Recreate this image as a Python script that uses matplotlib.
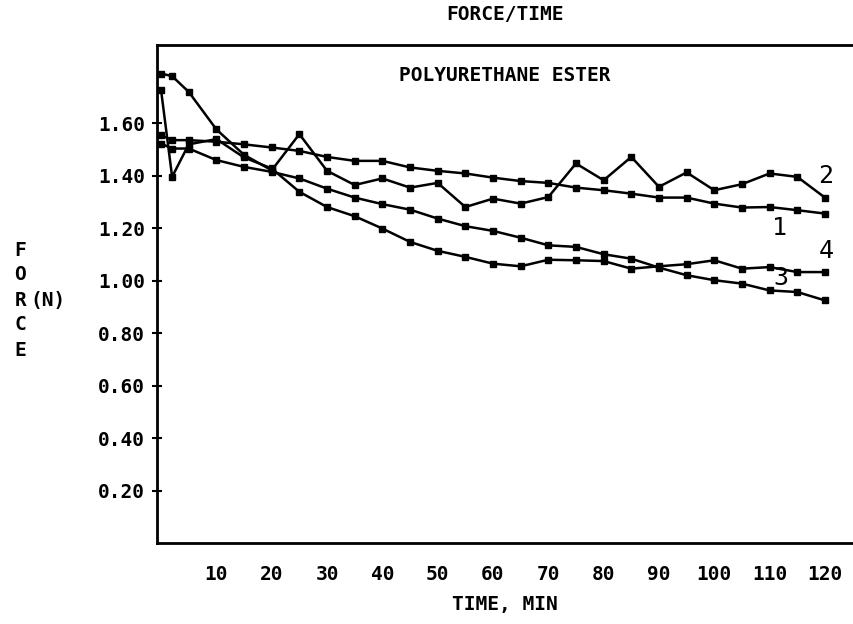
import numpy as np
import matplotlib
matplotlib.use('Agg')
import matplotlib.pyplot as plt

# time points (min)
time = [0, 2, 5, 10, 15, 20, 25, 30, 35, 40, 45, 50, 55, 60, 65,
        70, 75, 80, 85, 90, 95, 100, 105, 110, 115, 120]

# force readings (N), one list per sample
force_1 = [1.555, 1.536, 1.536, 1.53, 1.52, 1.508, 1.495, 1.472, 1.457, 1.457,
           1.432, 1.419, 1.409, 1.393, 1.38, 1.373, 1.355, 1.345, 1.332, 1.317,
           1.317, 1.294, 1.279, 1.281, 1.269, 1.256]
force_2 = [1.79, 1.78, 1.72, 1.577, 1.48, 1.421, 1.559, 1.419, 1.365, 1.39,
           1.355, 1.373, 1.281, 1.313, 1.294, 1.319, 1.447, 1.383, 1.472, 1.358,
           1.413, 1.345, 1.368, 1.409, 1.396, 1.317]
force_3 = [1.523, 1.504, 1.504, 1.46, 1.434, 1.415, 1.39, 1.351, 1.317, 1.292,
           1.271, 1.237, 1.208, 1.19, 1.164, 1.135, 1.129, 1.101, 1.084, 1.05,
           1.021, 1.002, 0.989, 0.963, 0.957, 0.925]
force_4 = [1.727, 1.396, 1.52, 1.54, 1.47, 1.428, 1.339, 1.281, 1.246, 1.199,
           1.148, 1.114, 1.091, 1.065, 1.055, 1.08, 1.078, 1.075, 1.046, 1.055,
           1.063, 1.078, 1.046, 1.052, 1.033, 1.033]

series_labels = ['1', '2', '3', '4']
yticks = [0.2, 0.4, 0.6, 0.8, 1.0, 1.2, 1.4, 1.6]
xticks = [10, 20, 30, 40, 50, 60, 70, 80, 90, 100, 110, 120]

plt.rcParams['font.family'] = ['DejaVu Sans Mono']
plt.rcParams['font.weight'] = 'bold'

fig = plt.figure(figsize=(8.54, 6.24), dpi=100)
ax = fig.add_axes([0.1838, 0.1298, 0.8139, 0.7986])

for f in [force_1, force_2, force_3, force_4]:
    ax.plot(time, f, color='black', lw=1.8, marker='s', ms=4.5,
            mfc='black', mec='black')

# curve labels next to line ends
ax.text(120.2, 1.40, series_labels[1], fontsize=18, ha='center', va='center', weight='normal')
ax.text(111.7, 1.20, series_labels[0], fontsize=18, ha='center', va='center', weight='normal')
ax.text(120.2, 1.115, series_labels[3], fontsize=18, ha='center', va='center', weight='normal')
ax.text(112.1, 1.01, series_labels[2], fontsize=18, ha='center', va='center', weight='normal')

ax.set_xlim(-0.74, 124.9)
ax.set_ylim(0, 1.9)
ax.set_xticks(xticks)
ax.set_xticklabels([str(v) for v in xticks], fontsize=14)
ax.set_yticks(yticks)
ax.set_yticklabels(['%.2f' % v for v in yticks], fontsize=14)
ax.tick_params(axis='y', direction='inout', length=7, width=1.5, pad=5)
ax.tick_params(axis='x', length=0, pad=16)
for s in ax.spines.values():
    s.set_linewidth(2)
ax.spines['right'].set_visible(False)

ax.text(0.5, 0.938, 'POLYURETHANE ESTER', transform=ax.transAxes,
        ha='center', va='center', fontsize=14)
fig.text(0.591, 0.976, 'FORCE/TIME', ha='center', va='center', fontsize=14)
fig.text(0.591, 0.032, 'TIME, MIN', ha='center', va='center', fontsize=14)

# stacked y label
for i, ch in enumerate('FORCE'):
    fig.text(0.024, 1 - (250 + i * 25) / 624, ch, ha='center', va='center', fontsize=14)
fig.text(0.056, 1 - 300 / 624, '(N)', ha='center', va='center', fontsize=14)

fig.savefig('out.png', dpi=100)
